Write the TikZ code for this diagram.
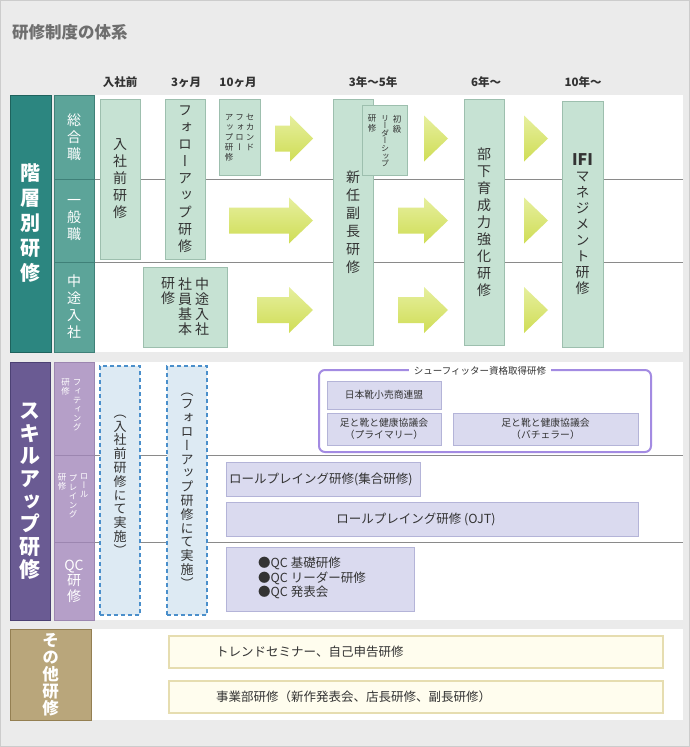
\documentclass[tikz,border=0pt]{standalone}
\usepackage{fontspec}
\newfontfamily\jp{Noto Sans CJK JP}
\newfontfamily\jpv[RawFeature=+vert]{Noto Sans CJK JP}
\definecolor{bg}{HTML}{EBEBEB}
\definecolor{bgline}{HTML}{CCCCCC}
\definecolor{txt}{HTML}{333333}
\definecolor{ttl}{HTML}{6E6E6E}
\definecolor{sepc}{HTML}{8A8A8A}
\definecolor{tealD}{HTML}{2C8680}
\definecolor{tealDl}{HTML}{1E625D}
\definecolor{tealM}{HTML}{5CA499}
\definecolor{tealMl}{HTML}{3F8078}
\definecolor{gfill}{HTML}{C6E2D3}
\definecolor{gline}{HTML}{9DBFAE}
\definecolor{arrtop}{HTML}{E6EF9E}
\definecolor{arrbot}{HTML}{CFDD55}
\definecolor{purD}{HTML}{6A5B93}
\definecolor{purDl}{HTML}{4C4174}
\definecolor{purM}{HTML}{B59FC8}
\definecolor{purMl}{HTML}{9C86B0}
\definecolor{lav}{HTML}{DADAEF}
\definecolor{lavl}{HTML}{B4B4D8}
\definecolor{shoe}{HTML}{A38BE2}
\definecolor{dfill}{HTML}{DDEAF3}
\definecolor{dline}{HTML}{4A8FCB}
\definecolor{tanc}{HTML}{B9A67B}
\definecolor{tanl}{HTML}{947F52}
\definecolor{cream}{HTML}{FFFDEE}
\definecolor{creaml}{HTML}{E6DDB0}
\newcommand\fatarrow[4]{%
  \shade[top color=arrtop, bottom color=arrbot]
    (#1,#4-13) -- (#2,#4-13) -- (#2,#4-23) -- (#3,#4) -- (#2,#4+23) -- (#2,#4+13) -- (#1,#4+13) -- cycle;}
\newcommand\trihead[3]{%
  \shade[top color=arrtop, bottom color=arrbot]
    (#1,#3-23) -- (#2,#3) -- (#1,#3+23) -- cycle;}
\tikzset{
  box/.style={inner sep=0pt, line width=1pt},
  gbox/.style={box, draw=gline, fill=gfill, text=txt, align=center, font=\jpv\fontsize{14}{17}\selectfont},
  sidebig/.style={box, text=white, align=center},
  sidemid/.style={box, text=white, align=center, font=\jpv\fontsize{14}{17}\selectfont},
  smallv/.style={inner sep=0pt, align=center, text=txt, font=\jpv\fontsize{8.5}{10}\selectfont},
  smallw/.style={inner sep=0pt, align=center, text=white, font=\jpv\fontsize{8.5}{9}\selectfont},
  hdr/.style={inner sep=0pt, text=txt, font=\jp\bfseries\fontsize{11.5}{12}\selectfont},
  dbox/.style={box, draw=dline, fill=dfill, line width=1.2pt, dash pattern=on 4pt off 3pt, text=txt, align=center, font=\jpv\fontsize{13}{13.8}\selectfont},
  lbox/.style={box, draw=lavl, fill=lav, text=txt},
  cbox/.style={box, draw=creaml, fill=cream, line width=1.2pt},
  sepline/.style={draw=sepc, line width=0.8pt},
  body/.style={inner sep=0pt, text=txt, font=\jp\fontsize{12.5}{14.5}\selectfont},
  tiny/.style={inner sep=0pt, text=txt, align=center, font=\jp\fontsize{9.8}{11.5}\selectfont},
}
\begin{document}
\begin{tikzpicture}[x=1pt,y=-1pt]
\useasboundingbox (0,0) rectangle (690,747);
\fill[bg, draw=bgline] (0.5,0.5) rectangle (689.5,746.5);
% title and headers
\node[anchor=west, inner sep=0pt, text=ttl, font=\jp\bfseries\fontsize{16.5}{17}\selectfont] (title) at (12,32.5) {研修制度の体系};
\node[hdr] (h1) at (120,82) {入社前};
\node[hdr] (h2) at (186,82) {3ヶ月};
\node[hdr] (h3) at (238,82) {10ヶ月};
\node[hdr] (h4) at (373,82) {3年～5年};
\node[hdr] (h5) at (486,82) {6年～};
\node[hdr] (h6) at (583,82) {10年～};
% bands
\fill[white] (95,95) rectangle (683,352);
\fill[white] (95,362) rectangle (683,620);
\fill[white] (91,629) rectangle (683,720);
% separator lines
\draw[sepline] (94,179) -- (683,179);
\draw[sepline] (94,262) -- (683,262);
\draw[sepline] (94,455) -- (683,455);
\draw[sepline] (94,542) -- (683,542);
% ===== section 1
\node[sidebig, draw=tealDl, fill=tealD, minimum width=41pt, minimum height=257pt, font=\jpv\bfseries\fontsize{20}{25}\selectfont] (kaiso) at (30.5,223.5) {階\\層\\別\\研\\修};
\node[sidemid, draw=tealMl, fill=tealM, minimum width=40pt, minimum height=84pt] (sogo) at (74,137) {総\\合\\職};
\node[sidemid, draw=tealMl, fill=tealM, minimum width=40pt, minimum height=83pt] (ippan) at (74,220.5) {一\\般\\職};
\node[sidemid, draw=tealMl, fill=tealM, minimum width=40pt, minimum height=90pt] (chutoL) at (74,307) {中\\途\\入\\社};
% arrows
\fatarrow{275}{290}{313}{138.5}
\fatarrow{229}{289}{313}{220.5}
\fatarrow{257}{289}{313}{310}
\trihead{424}{448}{138.5}
\fatarrow{398}{424}{448}{220.5}
\fatarrow{398}{424}{448}{310}
\trihead{524}{548}{138.5}
\trihead{524}{548}{220.5}
\trihead{524}{548}{310}
% boxes
\node[gbox, minimum width=40pt, minimum height=160pt] (nyusha) at (120,179) {入\\社\\前\\研\\修};
\node[gbox, minimum width=40pt, minimum height=160pt] (follow) at (185,179) {フ\\ォ\\ロ\\ー\\ア\\ッ\\プ\\研\\修};
\node[gbox, minimum width=41pt, minimum height=76pt] (second) at (239.5,137) {};
\node[smallv, anchor=north] (sec1) at (250,114) {セ\\カ\\ン\\ド};
\node[smallv, anchor=north] (sec2) at (239.5,114) {フ\\ォ\\ロ\\ー};
\node[smallv, anchor=north] (sec3) at (229,114) {ア\\ッ\\プ\\研\\修};
\node[gbox, minimum width=84pt, minimum height=80pt] (chuto) at (185,307) {};
\node[gbox, anchor=north, font=\jpv\fontsize{14}{15}\selectfont, draw=none, fill=none] (ch1) at (202,277) {中\\途\\入\\社};
\node[gbox, anchor=north, font=\jpv\fontsize{14}{15}\selectfont, draw=none, fill=none] (ch2) at (185,277) {社\\員\\基\\本};
\node[gbox, anchor=north, font=\jpv\fontsize{14}{15}\selectfont, draw=none, fill=none] (ch3) at (168,277) {研\\修};
\node[gbox, minimum width=40pt, minimum height=246pt, font=\jpv\fontsize{14}{18}\selectfont] (shinnin) at (353,222) {新\\任\\副\\長\\研\\修};
\node[gbox, minimum width=45pt, minimum height=70pt] (shokyu) at (384.5,140) {};
\node[smallv, anchor=north] (sk1) at (397,115) {初\\級};
\node[smallv, anchor=north, font=\jpv\fontsize{8}{7.6}\selectfont] (sk2) at (385,115) {リ\\ー\\ダ\\ー\\シ\\ッ\\プ};
\node[smallv, anchor=north] (sk3) at (372,115) {研\\修};
\node[gbox, minimum width=40pt, minimum height=246pt] (buka) at (484,222) {部\\下\\育\\成\\力\\強\\化\\研\\修};
\node[gbox, minimum width=41pt, minimum height=246pt, font=\jpv\fontsize{14}{16}\selectfont] (ifi) at (582.5,224) {{\jp\bfseries\fontsize{16}{16}\selectfont IFI}\\マ\\ネ\\ジ\\メ\\ン\\ト\\研\\修};
% ===== section 2
\node[sidebig, draw=purDl, fill=purD, minimum width=40pt, minimum height=258pt, font=\jpv\bfseries\fontsize{21}{22.7}\selectfont] (skill) at (30,491) {ス\\キ\\ル\\ア\\ッ\\プ\\研\\修};
\node[box, draw=purMl, fill=purM, minimum width=40pt, minimum height=93pt] (fit) at (74,408.5) {};
\node[smallw, anchor=north] (fit1) at (77,379) {フ\\ィ\\テ\\ィ\\ン\\グ};
\node[smallw, anchor=north] (fit2) at (65.5,379) {研\\修};
\node[box, draw=purMl, fill=purM, minimum width=40pt, minimum height=87pt] (rp) at (74,498.5) {};
\node[smallw, anchor=north] (rp1) at (84,474) {ロ\\ー\\ル};
\node[smallw, anchor=north] (rp2) at (73,474) {プ\\レ\\イ\\ン\\グ};
\node[smallw, anchor=north] (rp3) at (62,474) {研\\修};
\node[sidemid, draw=purMl, fill=purM, minimum width=40pt, minimum height=78pt, font=\jpv\fontsize{14}{15.5}\selectfont] (qc) at (74,581) {QC\\研\\修};
\node[dbox, minimum width=40pt, minimum height=249pt] (d1) at (120,490.5) {};
\node[inner sep=0pt, align=center, text=txt, font=\jpv\fontsize{13}{13.8}\selectfont] (d1t) at (120,485) {（\\入\\社\\前\\研\\修\\に\\て\\実\\施\\）};
\node[dbox, minimum width=40pt, minimum height=249pt] (d2) at (187,490.5) {（\\フ\\ォ\\ロ\\ー\\ア\\ッ\\プ\\研\\修\\に\\て\\実\\施\\）};
% shoe fitter frame
\draw[shoe, line width=2pt, rounded corners=6pt] (319,370) rectangle (651,452);
\node[tiny, fill=white, inner xsep=5pt, inner ysep=1pt, font=\jp\fontsize{9.5}{11}\selectfont] (shoeT) at (480,371) {シューフィッター資格取得研修};
\node[lbox, minimum width=114pt, minimum height=28pt, tiny] (nihon) at (384,395) {日本靴小売商連盟};
\node[lbox, minimum width=114pt, minimum height=32pt, tiny] (prim) at (384,429) {足と靴と健康協議会\\（プライマリー）};
\node[lbox, minimum width=185pt, minimum height=32pt, tiny] (bach) at (545.5,429) {足と靴と健康協議会\\（バチェラー）};
\node[lbox, minimum width=194pt, minimum height=34pt] (rpa) at (323,479) {};
\node[body, anchor=west] (rpaT) at (229,479) {ロールプレイング研修(集合研修)};
\node[lbox, minimum width=412pt, minimum height=34pt] (rpb) at (432,519) {};
\node[body] (rpbT) at (416,519) {ロールプレイング研修 (OJT)};
\node[lbox, minimum width=188pt, minimum height=64pt] (qcb) at (320,579) {};
\node[body, anchor=west, align=left] (qcbT) at (258,578) {●QC 基礎研修\\●QC リーダー研修\\●QC 発表会};
% ===== section 3
\node[sidebig, draw=tanl, fill=tanc, minimum width=81pt, minimum height=91pt, font=\jpv\bfseries\fontsize{16.5}{17}\selectfont] (sonota) at (50.5,674.5) {そ\\の\\他\\研\\修};
\node[cbox, minimum width=494pt, minimum height=32pt] (trend) at (416,652) {};
\node[body, anchor=west] (trendT) at (216,652) {トレンドセミナー、自己申告研修};
\node[cbox, minimum width=494pt, minimum height=32pt] (jigyo) at (416,697) {};
\node[body, anchor=west] (jigyoT) at (216,697) {事業部研修（新作発表会、店長研修、副長研修）};
\end{tikzpicture}
\end{document}
